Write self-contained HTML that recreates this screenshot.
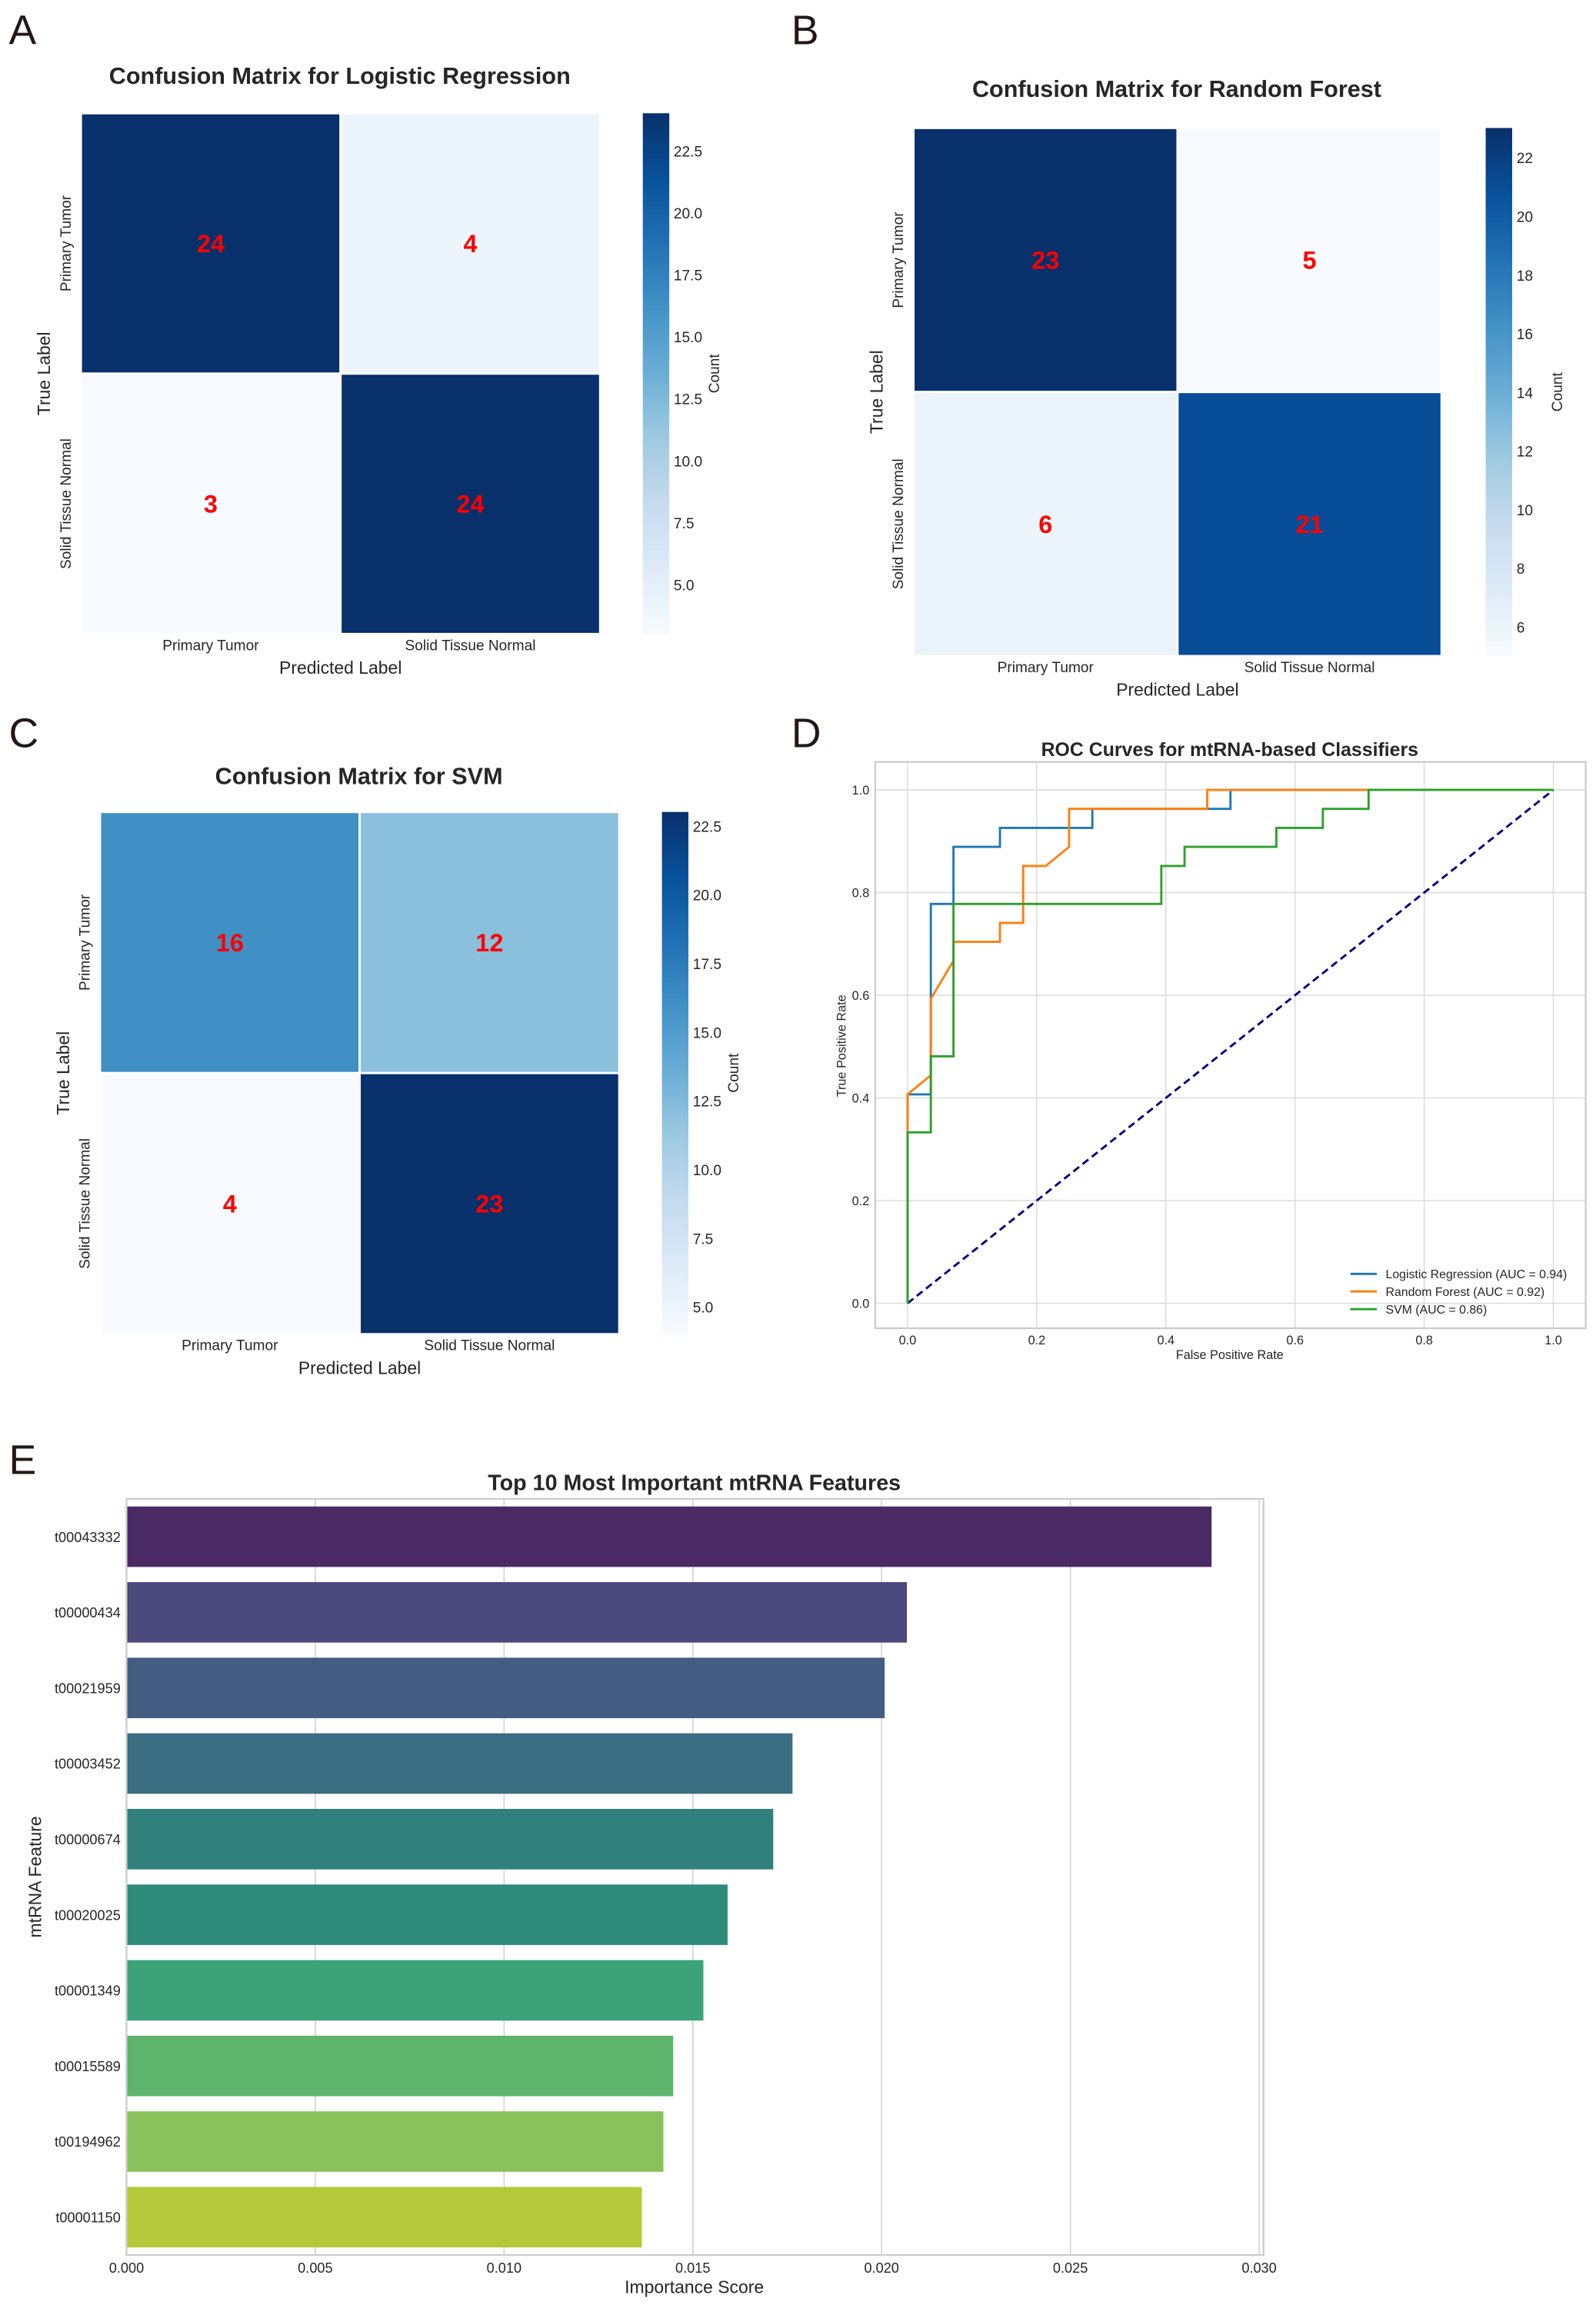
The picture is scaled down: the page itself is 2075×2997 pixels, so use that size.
<!DOCTYPE html>
<html><head><meta charset="utf-8">
<style>
html,body{margin:0;padding:0;background:#fff;}
svg{display:block;font-family:"Liberation Sans",Arial,sans-serif;}
</style></head>
<body>
<svg id="fig" width="2075" height="2997" viewBox="0 0 1085 1567" preserveAspectRatio="none" xmlns="http://www.w3.org/2000/svg">
<rect width="1085" height="1567" fill="#fff"/>
</svg>
<script>
// ---- Data ----
const cmClasses = ["Primary Tumor", "Solid Tissue Normal"];
const cmLR = [[24, 4], [3, 24]];
const cmRF = [[23, 5], [6, 21]];
const cmSVM = [[16, 12], [4, 23]];
const cbTicksLR = [5.0, 7.5, 10.0, 12.5, 15.0, 17.5, 20.0, 22.5];
const cbTicksRF = [6, 8, 10, 12, 14, 16, 18, 20, 22];
const cbTicksSVM = [5.0, 7.5, 10.0, 12.5, 15.0, 17.5, 20.0, 22.5];

const rocLR_x = [0, 0, 0.036, 0.036, 0.071, 0.071, 0.143, 0.143, 0.286, 0.286, 0.5, 0.5, 1];
const rocLR_y = [0, 0.407, 0.407, 0.778, 0.778, 0.889, 0.889, 0.926, 0.926, 0.963, 0.963, 1, 1];
const rocRF_x = [0, 0, 0, 0.036, 0.036, 0.071, 0.071, 0.143, 0.143, 0.179, 0.179, 0.214, 0.25, 0.25, 0.464, 0.464, 1];
const rocRF_y = [0, 0.333, 0.407, 0.444, 0.593, 0.667, 0.704, 0.704, 0.741, 0.741, 0.852, 0.852, 0.889, 0.963, 0.963, 1, 1];
const rocSVM_x = [0, 0, 0.036, 0.036, 0.071, 0.071, 0.393, 0.393, 0.429, 0.429, 0.571, 0.571, 0.643, 0.643, 0.714, 0.714, 1];
const rocSVM_y = [0, 0.333, 0.333, 0.481, 0.481, 0.778, 0.778, 0.852, 0.852, 0.889, 0.889, 0.926, 0.926, 0.963, 0.963, 1, 1];
const rocLabels = ["Logistic Regression (AUC = 0.94)", "Random Forest (AUC = 0.92)", "SVM (AUC = 0.86)"];
const rocTicks = [0.0, 0.2, 0.4, 0.6, 0.8, 1.0];

const featNames = ["t00043332","t00000434","t00021959","t00003452","t00000674","t00020025","t00001349","t00015589","t00194962","t00001150"];
const featValues = [0.02874, 0.02067, 0.02008, 0.01764, 0.01713, 0.01592, 0.01528, 0.01448, 0.01422, 0.01365];
const featTicks = [0.000, 0.005, 0.010, 0.015, 0.020, 0.025, 0.030];

// ---- Helpers ----
const NS = "http://www.w3.org/2000/svg";
const svg = document.getElementById("fig");
function mk(tag, attrs, parent, text) {
  const e = document.createElementNS(NS, tag);
  for (const k in attrs) e.setAttribute(k, attrs[k]);
  if (text !== undefined) e.textContent = text;
  (parent || svg).appendChild(e);
  return e;
}
const bluesStops = ["#f7fbff","#deebf7","#c6dbef","#9ecae1","#6baed6","#4292c6","#2171b5","#08519c","#08306b"];
function hex2rgb(h){return [1,3,5].map(i=>parseInt(h.substr(i,2),16));}
function blues(t){
  t=Math.max(0,Math.min(1,t));
  const p=t*8, i=Math.min(7,Math.floor(p)), f=p-i;
  const a=hex2rgb(bluesStops[i]), b=hex2rgb(bluesStops[i+1]);
  return "rgb("+a.map((v,k)=>Math.round(v+(b[k]-v)*f)).join(",")+")";
}
function panelLabel(txt,x,y){
  const t=mk("text",{x:x,y:y,"font-size":28,fill:"#231815"},svg,txt);
  
  
}

// ---- Confusion matrix ----
function confusion(id, title, data, ticks, vmin, vmax, L, T, W, H, cbx, titleX, titleY, tickFmt){
  const g=mk("g",{});
  
  
  const tt=mk("text",{x:titleX,y:titleY,"text-anchor":"middle","font-size":16,"font-weight":"bold",fill:"#262626"},g,title);
  
  
  const cw=W/2, ch=H/2;
  for(let r=0;r<2;r++)for(let c=0;c<2;c++){
    const v=data[r][c];
    const rect=mk("rect",{x:L+c*cw,y:T+r*ch,width:cw,height:ch,fill:blues((v-vmin)/(vmax-vmin)),stroke:"#fff","stroke-width":1.5},g);
    
    
    const lab=mk("text",{x:L+c*cw+cw/2,y:T+r*ch+ch/2+6,"text-anchor":"middle","font-size":17,"font-weight":"bold",fill:"#ff0000"},g,String(v));
    
    
  }
  for(let i=0;i<2;i++){
    const xl=mk("text",{x:L+i*cw+cw/2,y:T+H+11,"text-anchor":"middle","font-size":10,fill:"#262626"},g,cmClasses[i]);
    
    
    const cy=T+i*ch+ch/2;
    const yl=mk("text",{x:0,y:0,"text-anchor":"middle","font-size":10,fill:"#262626",transform:"translate("+(L-7)+","+cy+") rotate(-90)"},g,cmClasses[i]);
    
    
  }
  const xt=mk("text",{x:L+W/2,y:T+H+27,"text-anchor":"middle","font-size":12,fill:"#262626"},g,"Predicted Label");
  
  
  const yt=mk("text",{x:0,y:0,"text-anchor":"middle","font-size":12,fill:"#262626",transform:"translate("+(L-21)+","+(T+H/2)+") rotate(-90)"},g,"True Label");
  
  
  // colorbar
  const gid="grad-"+id;
  const defs=mk("defs",{},g);
  const lg=mk("linearGradient",{id:gid,x1:0,y1:1,x2:0,y2:0},defs);
  for(let i=0;i<=8;i++) mk("stop",{offset:i/8,"stop-color":bluesStops[i]},lg);
  const cb=mk("rect",{x:cbx,y:T,width:18,height:H,fill:"url(#"+gid+")"},g);
  
  
  ticks.forEach(v=>{
    const y=T+H-(v-vmin)/(vmax-vmin)*H;
    const tl=mk("text",{x:cbx+21,y:y+4,"font-size":10,fill:"#262626"},g,tickFmt(v));
    
    
  });
  const ct=mk("text",{x:0,y:0,"text-anchor":"middle","font-size":10,fill:"#262626",transform:"translate("+(cbx+52)+","+(T+H/2)+") rotate(-90)"},g,"Count");
  
  
}
const f1=v=>v.toFixed(1), f0=v=>String(v);
panelLabel("A",6,30);
confusion("confusion-matrix-logistic","Confusion Matrix for Logistic Regression",cmLR,cbTicksLR,3,24,55,77,353,354,437,231,57,f1);
panelLabel("B",538,30);
confusion("confusion-matrix-random-forest","Confusion Matrix for Random Forest",cmRF,cbTicksRF,5,23,621,87,359,359,1010,800,66,f0);
panelLabel("C",6,508);
confusion("confusion-matrix-svm","Confusion Matrix for SVM",cmSVM,cbTicksSVM,4,23,68,552,353,355,450,244,533,f1);

// ---- ROC ----
(function(){
  panelLabel("D",538,508);
  const g=mk("g",{});
  
  
  const X0=617,X1=1056,Y0=886,Y1=537;
  const sx=v=>X0+v*(X1-X0), sy=v=>Y0-v*(Y0-Y1);
  const title=mk("text",{x:836,y:514,"text-anchor":"middle","font-size":13,"font-weight":"bold",fill:"#262626"},g,"ROC Curves for mtRNA-based Classifiers");
  
  
  rocTicks.forEach(v=>{
    const gx=mk("line",{x1:sx(v),x2:sx(v),y1:518,y2:903,stroke:"#dcdcdc","stroke-width":0.8},g);
    
    
    const gy=mk("line",{x1:595,x2:1078,y1:sy(v),y2:sy(v),stroke:"#dcdcdc","stroke-width":0.8},g);
    
    
    const xl=mk("text",{x:sx(v),y:914,"text-anchor":"middle","font-size":8.5,fill:"#262626"},g,v.toFixed(1));
    
    
    const yl=mk("text",{x:591,y:sy(v)+3,"text-anchor":"end","font-size":8.5,fill:"#262626"},g,v.toFixed(1));
    
    
  });
  const box=mk("rect",{x:595,y:518,width:483,height:385,fill:"none",stroke:"#cccccc","stroke-width":1.2},g);
  
  
  const diag=mk("line",{x1:sx(0),y1:sy(0),x2:sx(1),y2:sy(1),stroke:"#000080","stroke-width":1.5,"stroke-dasharray":"5,3"},g);
  
  
  const series=[[rocLR_x,rocLR_y,"#1f77b4","roc-logistic-regression"],[rocRF_x,rocRF_y,"#ff7f0e","roc-random-forest"],[rocSVM_x,rocSVM_y,"#2ca02c","roc-svm"]];
  series.forEach(s=>{
    const pts=s[0].map((x,i)=>sx(x).toFixed(1)+","+sy(s[1][i]).toFixed(1)).join(" ");
    const pl=mk("polyline",{points:pts,fill:"none",stroke:s[2],"stroke-width":1.5},g);
    
    
  });
  rocLabels.forEach((lab,i)=>{
    const y=866+i*12;
    const ll=mk("line",{x1:918,x2:936,y1:y,y2:y,stroke:series[i][2],"stroke-width":1.5},g);
    
    
    const lt=mk("text",{x:942,y:y+3,"font-size":8.3,fill:"#262626"},g,lab);
    
    
  });
  const xt=mk("text",{x:836,y:924,"text-anchor":"middle","font-size":8.5,fill:"#262626"},g,"False Positive Rate");
  
  
  const yt=mk("text",{x:0,y:0,"text-anchor":"middle","font-size":8.5,fill:"#262626",transform:"translate(575,711) rotate(-90)"},g,"True Positive Rate");
  
  
})();

// ---- Feature importance ----
(function(){
  panelLabel("E",6,1002);
  const g=mk("g",{});
  
  
  const L=86,R=859,T=1019,B=1533;
  const sx=v=>L+v/0.030*(856-L);
  const title=mk("text",{x:472,y:1013,"text-anchor":"middle","font-size":15,"font-weight":"bold",fill:"#262626"},g,"Top 10 Most Important mtRNA Features");
  
  
  featTicks.forEach(v=>{
    const gl=mk("line",{x1:sx(v),x2:sx(v),y1:T,y2:B,stroke:"#d0d0d0","stroke-width":0.8},g);
    
    
    const tl=mk("text",{x:sx(v),y:B+12,"text-anchor":"middle","font-size":9.5,fill:"#262626"},g,v.toFixed(3));
    
    
  });
  const viridis=["#4a2a64","#4a4a7d","#435c82","#3a6d81","#30807c","#2e8b7a","#3ba279","#5eb46d","#89c25a","#b3c93a"];
  const step=(B-T)/featNames.length, bh=step*0.8;
  featNames.forEach((n,i)=>{
    const cy=T+step*(i+0.5);
    const r=mk("rect",{x:L,y:cy-bh/2,width:sx(featValues[i])-L,height:bh,fill:viridis[i]},g);
    
    
    const t=mk("text",{x:82,y:cy+3.5,"text-anchor":"end","font-size":9.5,fill:"#262626"},g,n);
    
    
  });
  const box=mk("rect",{x:L,y:T,width:R-L,height:B-T,fill:"none",stroke:"#cccccc","stroke-width":1.2},g);
  
  
  const xt=mk("text",{x:472,y:1559,"text-anchor":"middle","font-size":12,fill:"#262626"},g,"Importance Score");
  
  
  const yt=mk("text",{x:0,y:0,"text-anchor":"middle","font-size":12,fill:"#262626",transform:"translate(28,1276) rotate(-90)"},g,"mtRNA Feature");
  
  
})();
</script>
</body></html>
